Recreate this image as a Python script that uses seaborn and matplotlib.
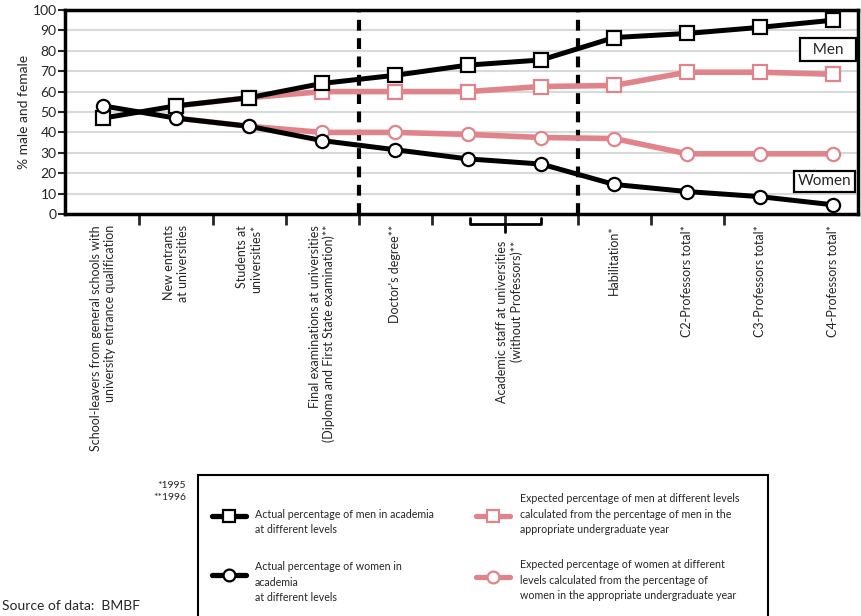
import matplotlib
matplotlib.use('Agg')
import matplotlib.pyplot as plt
import matplotlib.transforms as mtransforms
from matplotlib.lines import Line2D
from matplotlib.patches import Rectangle
import seaborn as sns

# ── Data ──────────────────────────────────────────────────────────────────
stage_idx = [0, 1, 2, 3, 4, 5, 6, 7, 8, 9, 10]
men_actual = [47, 53, 57, 64, 68, 73, 75.5, 86.5, 88.5, 91.5, 95]
women_actual = [53, 47, 43, 36, 31.5, 27, 24.5, 14.5, 11, 8.5, 4.5]

exp_idx = [1, 2, 3, 4, 5, 6, 7, 8, 9, 10]
men_expected = [53, 57, 60, 60, 60, 62.5, 63, 69.5, 69.5, 68.5]
women_expected = [47, 43, 40, 40, 39, 37.5, 37, 29.5, 29.5, 29.5]

label_pos = [0, 1, 2, 3, 4, 7, 8, 9, 10]
stage_labels = [
    "School-leavers from general schools with\nuniversity entrance qualification",
    "New entrants\nat universities",
    "Students at\nuniversities*",
    "Final examinations at universities\n(Diploma and First State examination)**",
    "Doctor's degree**",
    "Habilitation*",
    "C2-Professors total*",
    "C3-Professors total*",
    "C4-Professors total*",
]
staff_label = "Academic staff at universities\n(without Professors)**"
boundary_ticks = [0.5, 1.5, 2.5, 3.5, 4.5, 5.5, 6.5, 7.5, 8.5, 10]
yticks = list(range(0, 101, 10))

PINK = '#e0838a'

sns.set_style('white')
plt.rcParams['font.family'] = ['Lato', 'DejaVu Sans']

fig = plt.figure(figsize=(8.61, 6.16), dpi=100)
ax = fig.add_axes([65 / 861, 1 - 214 / 616, (858 - 65) / 861, (214 - 10) / 616])

# grid
for v in yticks[1:]:
    ax.axhline(v, color='#d9d9d9', lw=1.5, zorder=0)

# dashed separators
for xv in [3.5, 6.5]:
    ax.axvline(xv, color='black', lw=3, linestyle=(0, (2.6, 1.8)), zorder=1)

line_kw = dict(markersize=9.5, markeredgewidth=1.6, markerfacecolor='white')
sns.lineplot(x=exp_idx, y=men_expected, ax=ax, color=PINK, marker='s', lw=4,
             markeredgecolor=PINK, zorder=2, **line_kw)
sns.lineplot(x=exp_idx, y=women_expected, ax=ax, color=PINK, marker='o', lw=4,
             markeredgecolor=PINK, zorder=2, **line_kw)
sns.lineplot(x=stage_idx, y=men_actual, ax=ax, color='black', marker='s', lw=3.6,
             markeredgecolor='black', zorder=3, **line_kw)
sns.lineplot(x=stage_idx, y=women_actual, ax=ax, color='black', marker='o', lw=3.6,
             markeredgecolor='black', zorder=3, **line_kw)

ax.set_xlim(-0.52, 10.34)
ax.set_ylim(0, 100)
ax.set_yticks(yticks)
ax.tick_params(axis='y', length=5, width=1.5, labelsize=10, pad=1, direction='out', left=True)
ax.set_ylabel('% male and female', fontsize=10, labelpad=2)

ax.set_xticks(label_pos)
ax.set_xticklabels(stage_labels, rotation=90, ha='center', va='top',
                   multialignment='right', fontsize=9)
ax.tick_params(axis='x', which='major', length=0, pad=8)
ax.set_xticks(boundary_ticks, minor=True)
ax.tick_params(axis='x', which='minor', length=8, width=2, direction='out', bottom=True)

for s in ax.spines.values():
    s.set_linewidth(2.5)
    s.set_color('black')

# academic staff bracket and label
trans = mtransforms.blended_transform_factory(ax.transData, ax.transAxes)
ax.plot([5.02, 5.02, 6.0, 6.0], [-0.02, -0.05, -0.05, -0.02], color='black',
        lw=2, transform=trans, clip_on=False)
ax.plot([5.5, 5.5], [-0.05, -0.09], color='black', lw=2, transform=trans, clip_on=False)
ax.text(5.57, -0.13, staff_label, transform=trans, rotation=90, ha='center',
        va='top', multialignment='right', fontsize=9)

# Men / Women boxes
box_m = dict(boxstyle='square,pad=0.3', facecolor='white', edgecolor='black', lw=1.6)
ax.text(9.93, 80.5, '  Men  ', ha='center', va='center', fontsize=11, bbox=box_m, zorder=5)
box_w = dict(boxstyle='square,pad=0.25', facecolor='white', edgecolor='black', lw=1.6)
ax.text(9.88, 16, 'Women', ha='center', va='center', fontsize=11, bbox=box_w, zorder=5)

# footnotes
fig.text(186 / 861, 1 - 485 / 616, '*1995', ha='right', va='center', fontsize=7.5)
fig.text(186 / 861, 1 - 497 / 616, '**1996', ha='right', va='center', fontsize=7.5)
fig.text(2 / 861, 1 - 606 / 616, 'Source of data:  BMBF', ha='left', va='center', fontsize=10)

# legend box
fig.add_artist(Rectangle((198 / 861, -0.05), (768 - 198) / 861, 0.05 + 1 - 475 / 616,
                         transform=fig.transFigure, fill=False, edgecolor='black', lw=1.5))


def key(x0, y, color, marker):
    xs = [x0 / 861, (x0 + 17) / 861, (x0 + 34) / 861]
    ys = [1 - y / 616] * 3
    fig.add_artist(Line2D(xs, ys, transform=fig.transFigure, color=color, lw=3.8,
                          marker=marker, markevery=[1], markersize=8.5,
                          markerfacecolor='white', markeredgecolor=color,
                          markeredgewidth=1.6))


key(212, 516, 'black', 's')
key(212, 575, 'black', 'o')
key(476, 516, PINK, 's')
key(476, 577, PINK, 'o')

leg_fs = 7.7
fig.text(255 / 861, 1 - 522 / 616, 'Actual percentage of men in academia\nat different levels',
         ha='left', va='center', fontsize=leg_fs, linespacing=1.55)
fig.text(255 / 861, 1 - 582 / 616, 'Actual percentage of women in\nacademia\nat different levels',
         ha='left', va='center', fontsize=leg_fs, linespacing=1.55)
fig.text(520 / 861, 1 - 514 / 616,
         'Expected percentage of men at different levels\ncalculated from the percentage of men in the\nappropriate undergraduate year',
         ha='left', va='center', fontsize=leg_fs, linespacing=1.55)
fig.text(520 / 861, 1 - 580 / 616,
         'Expected percentage of women at different\nlevels calculated from the percentage of\nwomen in the appropriate undergraduate year',
         ha='left', va='center', fontsize=leg_fs, linespacing=1.55)

fig.savefig('out.png', dpi=100)
